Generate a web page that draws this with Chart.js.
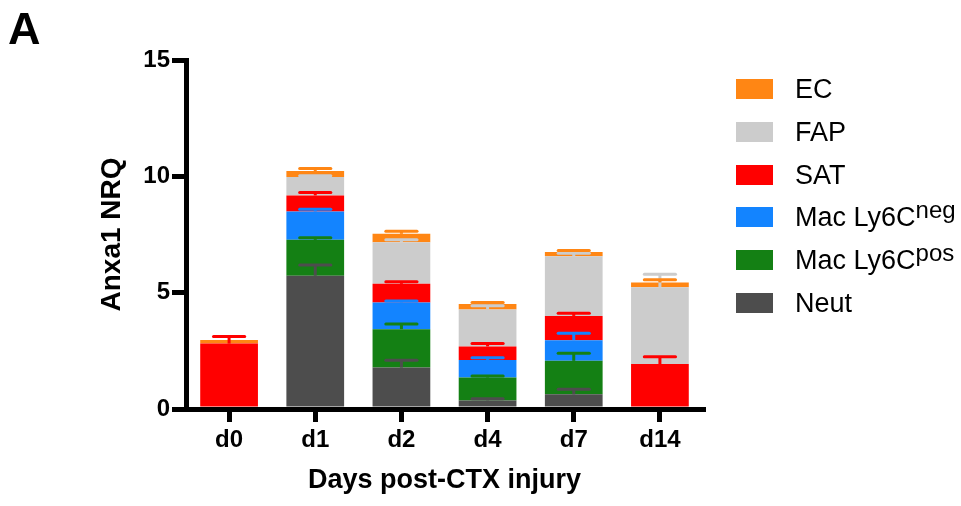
<!DOCTYPE html>
<html>
<head>
<meta charset="utf-8">
<title>Anxa1 NRQ by cell type</title>
<script src="https://cdn.jsdelivr.net/npm/chart.js@4/dist/chart.umd.min.js"></script>
<style>
  html, body { margin: 0; padding: 0; background: #ffffff; }
  #wrap { position: relative; width: 961px; height: 506px; overflow: hidden; font-family: "Liberation Sans", Arial, sans-serif; }
  #chart { position: absolute; left: 0; top: 0; }
  #panel { position: absolute; left: 8px; top: 6px; font-size: 45px; line-height: 45px; font-weight: bold; color: #000; }
  #legend { position: absolute; left: 736px; top: 0; }
  .row { position: absolute; left: 0; height: 20px; display: flex; align-items: center; white-space: nowrap; }
  .sw { width: 37px; height: 20px; margin-right: 22px; }
  .lab { font-size: 27px; line-height: 20px; color: #000; }
  .lab sup { font-size: 24px; line-height: 0; vertical-align: 8px; }
</style>
</head>
<body>
<div id="wrap">
  <canvas id="chart" width="961" height="506"></canvas>
  <div id="panel">A</div>
  <div id="legend"></div>
</div>
<script>
// Days after cardiotoxin injury
const days = ['d0', 'd1', 'd2', 'd4', 'd7', 'd14'];

// Stacked contributions (bottom to top) to Anxa1 NRQ
const neut     = [0,    5.73, 1.78, 0.37, 0.63, 0];
const macPos   = [0,    1.54, 1.65, 0.98, 1.44, 0];
const macNeg   = [0,    1.22, 1.15, 0.76, 0.89, 0];
const sat      = [2.81, 0.69, 0.80, 0.58, 1.04, 1.93];
const fap      = [0,    0.79, 1.79, 1.59, 2.56, 3.30];
const ec       = [0.16, 0.26, 0.36, 0.23, 0.19, 0.21];

// Upper error (SEM) of each contribution
const neutErr   = [0,    0.46, 0.32, 0.07, 0.22, 0];
const macPosErr = [0,    0.09, 0.22, 0.07, 0.33, 0];
const macNegErr = [0,    0.09, 0.06, 0.09, 0.30, 0];
const satErr    = [0.31, 0.12, 0.09, 0.12, 0.11, 0.32];
const fapErr    = [0,    0.05, 0.10, 0.16, 0.13, 0.56];
const ecErr     = [0,    0.11, 0.11, 0.07, 0.06, 0.12];

// Series names, superscripts and colours, bottom to top
const seriesNames = ['Neut', 'Mac Ly6C', 'Mac Ly6C', 'SAT', 'FAP', 'EC'];
const seriesSup   = ['', 'pos', 'neg', '', '', ''];
const seriesColors = ['#4d4d4d', '#148014', '#1384ff', '#ff0000', '#cccccc', '#ff8614'];

// Y axis ticks
const yTicks = [0, 5, 10, 15];

const seriesValues = [neut, macPos, macNeg, sat, fap, ec];
const seriesErrors = [neutErr, macPosErr, macNegErr, satErr, fapErr, ecErr];

const FONT = '"Liberation Sans", Arial, sans-serif';

const datasets = seriesValues.map((vals, i) => ({
  label: seriesNames[i] + seriesSup[i],
  data: vals,
  errors: seriesErrors[i],
  backgroundColor: seriesColors[i],
  borderWidth: 0,
  categoryPercentage: 1.0,
  barPercentage: 0.67,
  stack: 'cells'
}));

// Upward error bars with caps, drawn over the stacked bars
const errorBars = {
  id: 'errorBars',
  afterDatasetsDraw(chart) {
    const ctx = chart.ctx;
    const yScale = chart.scales.y;
    const n = chart.data.labels.length;
    for (let j = 0; j < n; j++) {
      let cum = 0;
      chart.data.datasets.forEach((ds, i) => {
        const v = ds.data[j];
        cum += v;
        const e = ds.errors[j];
        if (!v || !e) return;
        const el = chart.getDatasetMeta(i).data[j];
        const x = el.x;
        const y0 = yScale.getPixelForValue(cum);
        const y1 = yScale.getPixelForValue(cum + e);
        const half = el.width * 0.27;
        ctx.save();
        ctx.strokeStyle = ds.backgroundColor;
        ctx.lineWidth = 3;
        ctx.lineCap = 'butt';
        ctx.beginPath();
        ctx.moveTo(x, y0);
        ctx.lineTo(x, y1);
        ctx.stroke();
        ctx.lineCap = 'round';
        ctx.beginPath();
        ctx.moveTo(x - half, y1);
        ctx.lineTo(x + half, y1);
        ctx.stroke();
        ctx.restore();
      });
    }
  }
};

const chart = new Chart(document.getElementById('chart'), {
  type: 'bar',
  data: { labels: days, datasets: datasets },
  plugins: [errorBars],
  options: {
    responsive: false,
    animation: false,
    layout: { padding: { top: 60, right: 258, bottom: 0, left: 0 } },
    plugins: { legend: { display: false }, tooltip: { enabled: false } },
    scales: {
      x: {
        stacked: true,
        offset: true,
        afterFit(s) { s.height = 97; s.paddingLeft = 0; s.paddingRight = 0; },
        border: { display: true, color: '#000', width: 5 },
        grid: { display: true, offset: false, drawOnChartArea: false, drawTicks: true, tickLength: 13, lineWidth: 5, color: '#000' },
        ticks: { color: '#000', padding: 4, font: { family: FONT, size: 24, weight: 'bold' } },
        title: { display: true, text: 'Days post-CTX injury', color: '#000', padding: { top: 0, bottom: 9 }, font: { family: FONT, size: 27, weight: 'bold' } }
      },
      y: {
        stacked: true,
        min: 0,
        max: 15,
        afterFit(s) { s.width = 186; s.paddingTop = 0; s.paddingBottom = 0; },
        afterBuildTicks(s) { s.ticks = yTicks.map(v => ({ value: v })); },
        border: { display: true, color: '#000', width: 5 },
        grid: { display: true, drawOnChartArea: false, drawTicks: true, tickLength: 14, lineWidth: 5, color: '#000' },
        ticks: { color: '#000', padding: 2, font: { family: FONT, size: 24, weight: 'bold' } },
        title: { display: true, text: 'Anxa1 NRQ', color: '#000', padding: { top: 95, bottom: 0 }, font: { family: FONT, size: 28, weight: 'bold' } }
      }
    }
  }
});

// Legend, top entry first (reverse of stacking order)
const legend = document.getElementById('legend');
const rowTop = 79.3;
const rowStep = 42.7;
chart.data.datasets.slice().reverse().forEach((ds, k) => {
  const i = chart.data.datasets.length - 1 - k;
  const row = document.createElement('div');
  row.className = 'row';
  row.style.top = (rowTop + k * rowStep) + 'px';
  const sw = document.createElement('div');
  sw.className = 'sw';
  sw.style.background = ds.backgroundColor;
  const lab = document.createElement('span');
  lab.className = 'lab';
  lab.textContent = seriesNames[i];
  if (seriesSup[i]) {
    const sup = document.createElement('sup');
    sup.textContent = seriesSup[i];
    lab.appendChild(sup);
  }
  row.appendChild(sw);
  row.appendChild(lab);
  legend.appendChild(row);
});
</script>
</body>
</html>
